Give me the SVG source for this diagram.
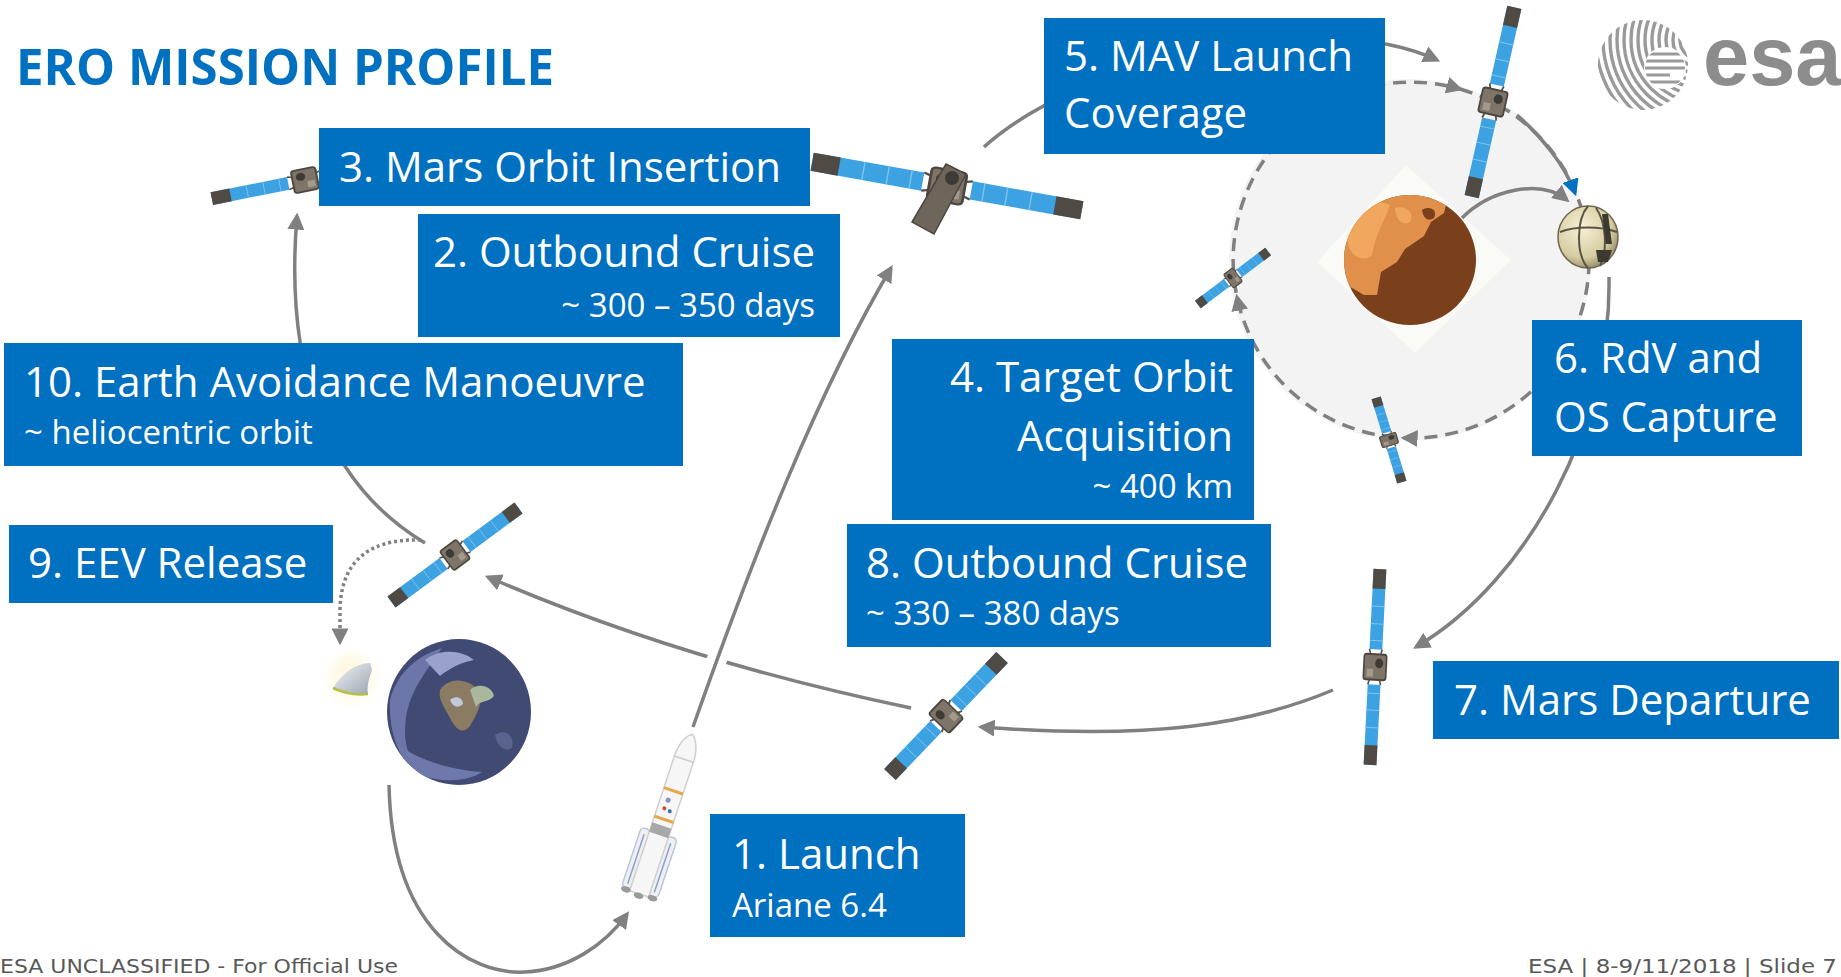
<svg xmlns="http://www.w3.org/2000/svg" xmlns:xlink="http://www.w3.org/1999/xlink" width="1841" height="977" viewBox="0 0 1841 977">
  <style>
    .box { fill: #0070C0; }
    .t { font-family: 'Open Sans', 'Noto Sans', sans-serif; fill: #FFFFFF; font-size: 42px; }
    .s { font-size: 33px; }
    .end { text-anchor: end; }
    .conn { fill: none; stroke: #808080; stroke-width: 3.5; }
    .foot { font-family: 'DejaVu Sans', 'Liberation Sans', sans-serif; font-size: 19px; fill: #595959; }
  </style>
  <defs>
    <marker id="arrow" viewBox="0 0 10 10" refX="8" refY="5" markerUnits="userSpaceOnUse" markerWidth="17" markerHeight="17" orient="auto">
      <path d="M0,0 L10,5 L0,10 z" fill="#808080"/>
    </marker>
    <marker id="arrow-blue" viewBox="0 0 10 10" refX="8" refY="5" markerUnits="userSpaceOnUse" markerWidth="17" markerHeight="17" orient="auto">
      <path d="M0,0 L10,5 L0,10 z" fill="#0070C0"/>
    </marker>
    <clipPath id="mars-clip"><ellipse cx="1410" cy="260" rx="66" ry="65"/></clipPath>
    <clipPath id="earth-clip"><ellipse cx="459" cy="712" rx="72" ry="73"/></clipPath>
    <clipPath id="logo-clip"><circle cx="1643" cy="65" r="45"/></clipPath>
    <clipPath id="logo-inner"><circle cx="1665" cy="68" r="20"/></clipPath>
    <radialGradient id="os-grad" cx="0.4" cy="0.35" r="0.7">
      <stop offset="0" stop-color="#F6F1D6"/>
      <stop offset="0.7" stop-color="#D6CCA0"/>
      <stop offset="1" stop-color="#8E8466"/>
    </radialGradient>
    <radialGradient id="glow" cx="0.5" cy="0.5" r="0.5">
      <stop offset="0" stop-color="#FFF3C8" stop-opacity="0.9"/>
      <stop offset="1" stop-color="#FFF3C8" stop-opacity="0"/>
    </radialGradient>
    <linearGradient id="cone" x1="0" y1="0" x2="1" y2="1">
      <stop offset="0" stop-color="#F4F6F8"/>
      <stop offset="1" stop-color="#9AA4B0"/>
    </linearGradient>
    <!-- generic spacecraft: two solar wings along x, body in the middle -->
    <g id="sat">
      <rect x="-100" y="-8" width="82" height="16" fill="#3DA2E2"/>
      <rect x="18" y="-8" width="82" height="16" fill="#3DA2E2"/>
      <rect x="-100" y="-8" width="20" height="16" fill="#4F4A43"/>
      <rect x="80" y="-8" width="20" height="16" fill="#4F4A43"/>
      <path d="M-62,-8V8M-44,-8V8M-27,-8V8M27,-8V8M44,-8V8M62,-8V8" stroke="#7FC4EE" stroke-width="1"/>
      <path d="M-12,-6 L-18,-8 M-12,6 L-18,8 M12,-6 L18,-8 M12,6 L18,8" stroke="#55504A" stroke-width="2"/>
      <rect x="-13" y="-14" width="26" height="28" rx="3" fill="#7E7468" stroke="#4C463F" stroke-width="2"/>
      <circle cx="-4" cy="-5" r="5" fill="#3E3A35"/>
      <rect x="2" y="2" width="8" height="8" fill="#A39A8C"/>
    </g>
  </defs>

  <rect x="0" y="0" width="1841" height="977" fill="#FFFFFF"/>

  <!-- heading -->
  <g id="title">
    <text x="16" y="85" font-family="'Open Sans', 'Noto Sans', sans-serif" font-weight="bold" font-size="51" fill="#0070C0" textLength="538" lengthAdjust="spacingAndGlyphs">ERO MISSION PROFILE</text>
  </g>

  <!-- agency logo -->
  <g id="esa-logo">
    <g clip-path="url(#logo-clip)" fill="none" stroke="#9A9A9A" stroke-width="3.4">
      <circle cx="1700" cy="40" r="20"/>
      <circle cx="1700" cy="40" r="27"/>
      <circle cx="1700" cy="40" r="34"/>
      <circle cx="1700" cy="40" r="41"/>
      <circle cx="1700" cy="40" r="48"/>
      <circle cx="1700" cy="40" r="55"/>
      <circle cx="1700" cy="40" r="62"/>
      <circle cx="1700" cy="40" r="69"/>
      <circle cx="1700" cy="40" r="76"/>
      <circle cx="1700" cy="40" r="83"/>
      <circle cx="1700" cy="40" r="90"/>
      <circle cx="1700" cy="40" r="97"/>
      <circle cx="1700" cy="40" r="104"/>
      <circle cx="1700" cy="40" r="111"/>
    </g>
    <circle cx="1665" cy="68" r="21" fill="#FFFFFF"/>
    <g clip-path="url(#logo-inner)" stroke="#9A9A9A" stroke-width="3">
      <path d="M1645,54 H1690 M1645,61 H1690 M1645,68 H1690 M1645,75 H1670 M1645,82 H1690"/>
    </g>
    <text x="1703" y="85" font-family="'Liberation Sans', Arial, sans-serif" font-weight="bold" font-size="83" fill="#8C8C8C">esa</text>
  </g>

  <!-- Mars orbit zone -->
  <g id="mars-orbit">
    <circle cx="1410" cy="260" r="181" fill="#F3F3F3"/>
    <path d="M1406,165 L1511,260 L1415,353 L1317,262 z" fill="#FAFAF6"/>
  </g>

  <g id="connectors">
    <!-- target orbit, clockwise -->
    <path class="conn" stroke-width="3" stroke-dasharray="13 8" marker-mid="url(#arrow)" marker-end="url(#arrow)"
          d="M1460,89 A178,178 0 0 1 1404,438 A178,178 0 0 1 1237,297 A178,178 0 0 1 1460,89"/>
    <!-- Earth to launcher -->
    <path class="conn" marker-end="url(#arrow)" d="M389,785 C392,930 470,975 525,972 C568,970 605,945 627,914"/>
    <!-- return cruise leg -->
    <path class="conn" marker-end="url(#arrow)" d="M911,708 Q680,660 488,577"/>
    <!-- crossing gap -->
    <path d="M709,677 L722,648" stroke="#FFFFFF" stroke-width="20" fill="none"/>
    <!-- outbound cruise leg -->
    <path class="conn" marker-end="url(#arrow)" d="M693,727 C753,557 817,393 891,268"/>
    <!-- Mars orbit insertion to MAV coverage -->
    <path class="conn" marker-end="url(#arrow)" d="M984,147 C1080,60 1320,5 1437,60"/>
    <!-- rendezvous -->
    <path class="conn" stroke="#0070C0" marker-end="url(#arrow-blue)" d="M1517,115 C1540,135 1565,165 1575,193"/>
    <!-- MAV ascent -->
    <path class="conn" marker-end="url(#arrow)" d="M1462,218 C1490,190 1540,178 1567,200"/>
    <!-- capture to departure -->
    <path class="conn" marker-end="url(#arrow)" d="M1609,277 C1612,420 1530,580 1416,647"/>
    <!-- departure to return cruise -->
    <path class="conn" marker-end="url(#arrow)" d="M1333,690 C1250,725 1150,740 981,727"/>
    <!-- Earth avoidance loop -->
    <path class="conn" marker-end="url(#arrow)" d="M425,543 C320,480 285,360 297,216"/>
    <!-- entry vehicle release -->
    <path class="conn" stroke-dasharray="3 3" marker-end="url(#arrow)" d="M421,540 C360,538 340,570 340,612 L340,642"/>
  </g>

  <!-- Mars -->
  <g id="mars">
    <ellipse cx="1410" cy="260" rx="66" ry="65" fill="#7A3F1B"/>
    <g clip-path="url(#mars-clip)">
      <path d="M1340,190 L1450,190 L1444,213 L1431,222 L1424,236 L1405,249 L1397,262 L1381,272 L1377,295 L1364,295 L1347,285 L1340,270 z" fill="#E0904A"/>
      <path d="M1345,215 C1355,200 1375,198 1390,205 C1385,220 1375,235 1372,255 C1365,262 1352,258 1348,245 z" fill="#F2A75E"/>
      <path d="M1395,208 C1405,205 1415,212 1410,222 C1402,226 1396,220 1395,208 z" fill="#F2A75E"/>
      <path d="M1422,210 C1430,205 1438,210 1434,218 C1428,222 1423,218 1422,210 z" fill="#7A3F1B"/>
    </g>
  </g>

  <!-- Earth -->
  <g id="earth">
    <ellipse cx="459" cy="712" rx="72" ry="73" fill="#414A72"/>
    <g clip-path="url(#earth-clip)">
      <path d="M390,700 C398,670 420,655 442,648 C426,672 410,690 406,718 C402,745 410,765 428,778 C405,772 388,740 390,700 z" fill="#6C76A8"/>
      <path d="M425,660 C440,648 462,650 474,660 C462,662 450,668 440,676 z" fill="#9AA2CC"/>
      <path d="M440,690 C450,675 470,680 478,690 C485,700 476,716 470,726 C462,736 455,728 450,718 C445,708 438,700 440,690 z" fill="#8B7B62"/>
      <path d="M470,690 C478,682 492,686 494,696 C488,703 480,700 476,707 z" fill="#A9B79C"/>
      <path d="M450,700 C455,695 463,697 463,704 C458,709 453,707 450,700 z" fill="#C3C7DD"/>
      <path d="M398,745 C420,760 450,770 482,772 C470,781 440,784 420,774 z" fill="#6E78AA"/>
      <path d="M495,735 C505,728 515,735 512,748 C505,752 498,748 495,735 z" fill="#5A6390"/>
    </g>
  </g>

  <!-- entry vehicle -->
  <g id="eev">
    <ellipse cx="352" cy="678" rx="30" ry="32" fill="url(#glow)"/>
    <path d="M333,688 Q348,664 370,663 L372,670 Q366,686 368,694 Q350,696 333,688 z" fill="url(#cone)"/>
    <path d="M333,688 Q350,696 368,694" fill="none" stroke="#B5BE4A" stroke-width="2.5"/>
  </g>

  <!-- orbiting sample container -->
  <g id="sample-container">
    <ellipse cx="1588" cy="237" rx="30" ry="31" fill="url(#os-grad)" stroke="#6E6650" stroke-width="1.5"/>
    <path d="M1588,206 C1576,220 1576,255 1588,268 M1560,232 C1575,226 1600,226 1617,232 M1596,208 C1606,222 1608,250 1600,266" fill="none" stroke="#5A5444" stroke-width="2"/>
    <path d="M1602,214 L1608,214 L1612,244 L1606,244 z" fill="#3C3A30"/>
    <path d="M1596,250 L1612,250 L1608,262 L1598,262 z" fill="#3C3A30"/>
  </g>

  <!-- spacecraft -->
  <g id="sat-insertion">
    <use xlink:href="#sat" href="#sat" transform="translate(305,180) rotate(-11.3) scale(0.95,0.8)"/>
  </g>
  <g id="sat-cruise">
    <use xlink:href="#sat" href="#sat" transform="translate(947,186) rotate(10.2) scale(1.37,1.15)"/>
    <path d="M946,164 L966,174 L934,234 L912,222 z" fill="#6E665B" stroke="#4C463F" stroke-width="1.5"/>
    <circle cx="952" cy="178" r="7" fill="#3E3A35"/>
  </g>
  <g id="sat-mav">
    <use xlink:href="#sat" href="#sat" transform="translate(1493,102) rotate(102.7) scale(0.97,0.9)"/>
  </g>
  <g id="sat-orbit-left">
    <use xlink:href="#sat" href="#sat" transform="translate(1233,278) rotate(-37) scale(0.44,0.6)"/>
  </g>
  <g id="sat-orbit-bottom">
    <use xlink:href="#sat" href="#sat" transform="translate(1389,440) rotate(73) scale(0.44,0.6)"/>
  </g>
  <g id="sat-departure">
    <use xlink:href="#sat" href="#sat" transform="translate(1375,667) rotate(92.9) scale(0.98,0.8)"/>
  </g>
  <g id="sat-return">
    <use xlink:href="#sat" href="#sat" transform="translate(946,716) rotate(-46.2) scale(0.81,1.0)"/>
  </g>
  <g id="sat-release">
    <use xlink:href="#sat" href="#sat" transform="translate(455,555) rotate(-36.5) scale(0.79,0.85)"/>
  </g>

  <!-- launcher -->
  <g id="launcher" transform="translate(665,816) rotate(18.4)">
    <rect x="-19" y="18" width="10" height="62" rx="4" fill="#F0F0F0" stroke="#B9C3DA" stroke-width="1.5"/>
    <rect x="9" y="18" width="10" height="62" rx="4" fill="#F0F0F0" stroke="#B9C3DA" stroke-width="1.5"/>
    <rect x="-10" y="-60" width="20" height="142" fill="#F6F6F6" stroke="#CFCFCF" stroke-width="1.5"/>
    <path d="M-10,-60 C-10,-75 -4,-84 0,-86 C4,-84 10,-75 10,-60 z" fill="#F6F6F6" stroke="#CFCFCF" stroke-width="1.5"/>
    <rect x="-10" y="-28" width="20" height="3" fill="#E3A84C"/>
    <rect x="-10" y="2" width="20" height="3" fill="#E3A84C"/>
    <rect x="-10" y="10" width="20" height="10" fill="#A8A8A8"/>
    <circle cx="-2" cy="-16" r="2.5" fill="#7E93C8"/>
    <circle cx="-3" cy="-7" r="2" fill="#D04A3A"/>
    <circle cx="3" cy="-6" r="2" fill="#3A70C0"/>
    <path d="M-14,24 V76 M14,24 V76" stroke="#8AA0D0" stroke-width="1.5"/>
    <ellipse cx="-14" cy="82" rx="5" ry="3" fill="#9A9A9A"/>
    <ellipse cx="0" cy="84" rx="5" ry="3" fill="#9A9A9A"/>
    <ellipse cx="14" cy="82" rx="5" ry="3" fill="#9A9A9A"/>
  </g>

  <!-- step labels -->
  <g id="step-1">
    <rect class="box" x="710" y="814" width="255" height="123"/>
    <text class="t" x="732" y="869">1. Launch</text>
    <text class="t s" x="732" y="917">Ariane 6.4</text>
  </g>
  <g id="step-2">
    <rect class="box" x="418" y="214" width="422" height="123"/>
    <text class="t end" x="815" y="267">2. Outbound Cruise</text>
    <text class="t s end" x="815" y="317">~ 300 – 350 days</text>
  </g>
  <g id="step-3">
    <rect class="box" x="319" y="128" width="491" height="78"/>
    <text class="t" x="339" y="182">3. Mars Orbit Insertion</text>
  </g>
  <g id="step-4">
    <rect class="box" x="892" y="339" width="362" height="181"/>
    <text class="t end" x="1233" y="392">4. Target Orbit</text>
    <text class="t end" x="1233" y="451">Acquisition</text>
    <text class="t s end" x="1233" y="498">~ 400 km</text>
  </g>
  <g id="step-5">
    <rect class="box" x="1044" y="18" width="341" height="136"/>
    <text class="t" x="1064" y="71">5. MAV Launch</text>
    <text class="t" x="1064" y="128">Coverage</text>
  </g>
  <g id="step-6">
    <rect class="box" x="1532" y="320" width="270" height="136"/>
    <text class="t" x="1554" y="373">6. RdV and</text>
    <text class="t" x="1554" y="432">OS Capture</text>
  </g>
  <g id="step-7">
    <rect class="box" x="1433" y="661" width="406" height="78"/>
    <text class="t" x="1454" y="715">7. Mars Departure</text>
  </g>
  <g id="step-8">
    <rect class="box" x="847" y="524" width="424" height="123"/>
    <text class="t" x="866" y="578">8. Outbound Cruise</text>
    <text class="t s" x="866" y="625">~ 330 – 380 days</text>
  </g>
  <g id="step-9">
    <rect class="box" x="9" y="525" width="324" height="78"/>
    <text class="t" x="28" y="578">9. EEV Release</text>
  </g>
  <g id="step-10">
    <rect class="box" x="4" y="343" width="679" height="123"/>
    <text class="t" x="24" y="397">10. Earth Avoidance Manoeuvre</text>
    <text class="t s" x="24" y="444">~ heliocentric orbit</text>
  </g>

  <!-- footer -->
  <g id="footer">
    <text class="foot" x="0" y="973" textLength="398" lengthAdjust="spacingAndGlyphs">ESA UNCLASSIFIED - For Official Use</text>
    <text class="foot" x="1528" y="973" textLength="309" lengthAdjust="spacingAndGlyphs">ESA | 8-9/11/2018 | Slide  7</text>
  </g>
</svg>
